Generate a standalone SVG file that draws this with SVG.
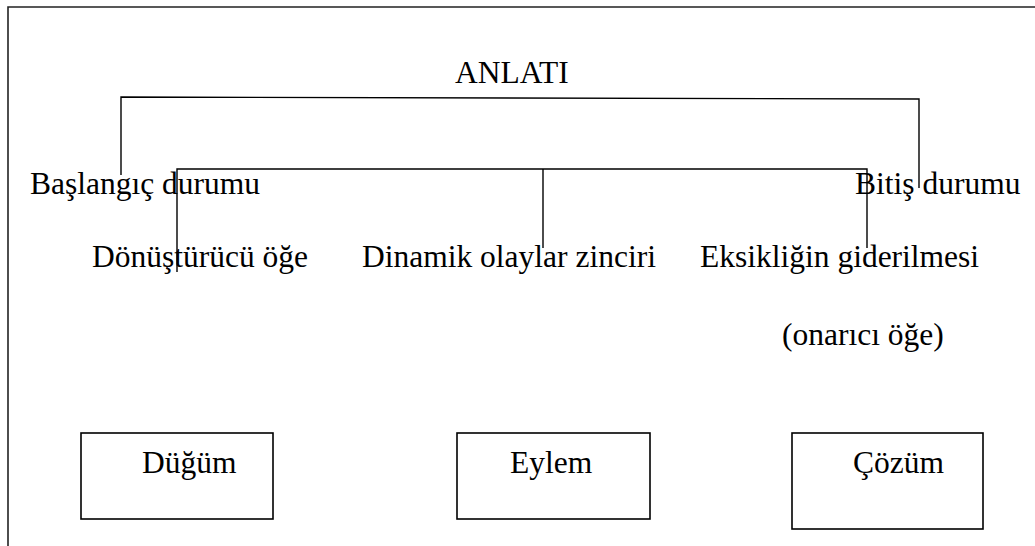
<svg xmlns="http://www.w3.org/2000/svg" width="1035" height="546" viewBox="0 0 1035 546">
<style>
.t{font-family:"Liberation Serif","Times New Roman",serif;font-size:31.5px;fill:#000}
.ln{fill:none;stroke:#000;stroke-width:1.4}
.box{fill:#fff;stroke:#000;stroke-width:1.6}
.frame{fill:none;stroke:#222;stroke-width:1.6}
</style>
<rect width="1035" height="546" fill="#fff"/>
<path class="frame" d="M8,546 V7 H1035"/>
<g id="connectors">
<path class="ln" d="M121,175 V97 L919,99 V188"/>
<path class="ln" d="M177,272 V169 H867 V248"/>
<path class="ln" d="M543,169 V248"/>
</g>
<g id="anlati"><text class="t" x="455" y="83">ANLATI</text></g>
<g id="baslangic"><text class="t" x="30" y="194">Başlangıç durumu</text></g>
<g id="bitis"><text class="t" x="855" y="194">Bitiş durumu</text></g>
<g id="donusturucu"><text class="t" x="92" y="267">Dönüştürücü öğe</text></g>
<g id="dinamik"><text class="t" x="362" y="267">Dinamik olaylar zinciri</text></g>
<g id="eksiklik"><text class="t" x="700" y="267">Eksikliğin giderilmesi</text><text class="t" x="782" y="345">(onarıcı öğe)</text></g>
<g id="dugum"><rect class="box" x="81" y="433" width="192" height="86"/><text class="t" x="142" y="473">Düğüm</text></g>
<g id="eylem"><rect class="box" x="457" y="433" width="193" height="86"/><text class="t" x="510" y="473">Eylem</text></g>
<g id="cozum"><rect class="box" x="792" y="433" width="191" height="96"/><text class="t" x="853" y="473">Çözüm</text></g>
</svg>
